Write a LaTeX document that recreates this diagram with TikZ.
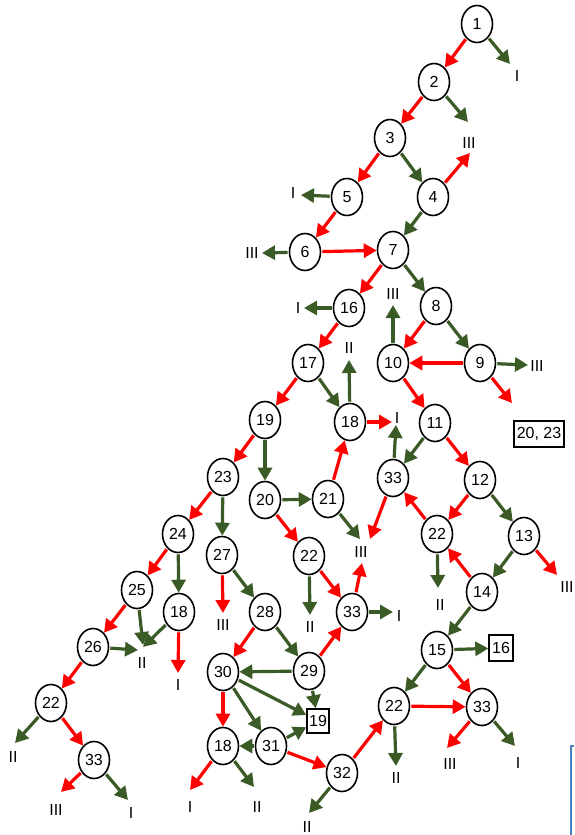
\documentclass[tikz,border=0pt]{standalone}
\usepackage{fontspec}
\setmainfont{Liberation Sans}
\usetikzlibrary{arrows.meta,shapes.geometric}
\definecolor{arrred}{HTML}{FF0000}
\definecolor{arrgreen}{HTML}{3B5B26}
\definecolor{edgeblue}{HTML}{4A7EC0}

\begin{document}
\begin{tikzpicture}[x=1pt,y=-1pt, every node/.style={font=\fontsize{16}{18}\selectfont},
 nd/.style={draw,ellipse,line width=1.6pt,minimum width=31pt,minimum height=37pt,inner sep=0pt,fill=white},
 bx/.style={draw,rectangle,line width=1.6pt,minimum height=26pt,inner sep=3pt,fill=white},
 lab/.style={inner sep=0pt},
 ra/.style={arrred,line width=3.2pt,shorten <=1pt,-{Triangle[length=13pt,width=14pt]}},
 ga/.style={arrgreen,line width=3.2pt,shorten <=1pt,-{Triangle[length=13pt,width=14pt]}}]
\useasboundingbox (0,0) rectangle (574,835);
% numbered states
\node[nd] (a1) at (477,24) {1};
\node[nd] (a2) at (434,82) {2};
\node[nd] (a3) at (390,138) {3};
\node[nd] (a4) at (433,197) {4};
\node[nd] (a5) at (347,197) {5};
\node[nd] (a6) at (305,252) {6};
\node[nd] (a7) at (393,250) {7};
\node[nd] (a16) at (349,308) {16};
\node[nd] (a8) at (436,306) {8};
\node[nd] (a10) at (393,363) {10};
\node[nd] (a9) at (480,363) {9};
\node[nd] (a17) at (308,363) {17};
\node[nd] (a18) at (350,422) {18};
\node[nd] (a11) at (435,423) {11};
\node[nd] (a19) at (265,420) {19};
\node[nd] (a23) at (223,477) {23};
\node[nd] (b33) at (393,478) {33};
\node[nd] (a12) at (480,480) {12};
\node[nd] (a20) at (265,500) {20};
\node[nd] (a21) at (328,499) {21};
\node[nd] (a24) at (178,534) {24};
\node[nd] (b22) at (437,534) {22};
\node[nd] (a13) at (524,536) {13};
\node[nd] (a27) at (222,555) {27};
\node[nd] (c22) at (309,556) {22};
\node[nd] (a14) at (482,592) {14};
\node[nd] (a25) at (137,590) {25};
\node[nd] (b18) at (179,612) {18};
\node[nd] (a28) at (265,612) {28};
\node[nd] (c33) at (352,612) {33};
\node[nd] (a26) at (93,647) {26};
\node[nd] (a15) at (437,650) {15};
\node[nd] (a29) at (309,671) {29};
\node[nd] (a30) at (223,672) {30};
\node[nd] (d22) at (51,703) {22};
\node[nd] (e22) at (394,706) {22};
\node[nd] (e33) at (482,707) {33};
\node[nd] (c18) at (223,746) {18};
\node[nd] (a31) at (271,746) {31};
\node[nd] (d33) at (94,760) {33};
\node[nd] (a32) at (342,773) {32};
% boxes
\node[bx] (s2023) at (539,434) {20, 23};
\node[bx] (s16) at (501,648) {16};
\node[bx,minimum height=24pt,inner sep=2pt] (s19) at (318,721) {19};
% end labels
\foreach \n/\x/\y/\t in {l1/517/76/I, l2/469/143/III, l5/293/193/I, l6/252/253/III, l16/298/308/I,
  l10/393/294/III, l18/349/348/II, l9/537/366/III, l18b/397/418/I, l21/361/552/III, lb22/440/605/II,
  l13/567/587/III, l27/223/625/III, l25/142/663/II, lb18/178/685/I, lc22/310/627/II, lc33/399/616/I,
  ld22/13/757/II, ld33a/56/810/III, ld33b/131/813/I, lc18a/190/807/I, lc18b/257/807/II,
  le22/396/778/II, le33a/450/764/III, le33b/518/763/I, l32/307/827/II}
  \node[lab] (\n) at (\x,\y) {\t};
% arrow tips
\foreach \n/\x/\y in {t1/510/64, t2/468/122, t4/470/153, t5/301/195, t6/262/253, t16/304/308,
  t10/393/305, t18b/349/360, t9/528/365, t9b/512/403, t18/392/422, t33b/396/425, t33/370/539,
  t21/360/539, tc33a/362/563, tb22/438/588, t13/557/575, t27/223/613, t25/143/645, t18c/143/647,
  t26/138/650, tb18/178/673, tc22/310/615, tc33b/393/612, td22/15/743, td33a/61/792, td33b/128/800,
  tc18a/190/790, tc18b/254/787, te22/396/766, te33a/447/748, te33b/515/746, t32/309/813}
  \coordinate (\n) at (\x,\y);
% red moves
\foreach \a/\b in {a1/a2, a2/a3, a3/a5, a5/a6, a6/a7, a7/a16, a16/a17, a8/a10, a9/a10, a10/a11,
  a17/a19, a11/a12, a21/a18, a19/a23, a20/c22, a12/b22, b22/b33, a14/b22, a23/a24, a24/a25,
  a25/a26, a26/d22, d22/d33, a28/a30, c22/c33, a29/c33, a30/c18, a31/a32, a32/e22, a15/e33, e22/e33,
  a4/t4, a9/t9b, a18/t18, b33/t33, a13/t13, b18/tb18, a27/t27, c33/tc33a, d33/td33a, c18/tc18a, e33/te33a}
  {\draw[ra] (\a) -- (\b);}
% green moves
\foreach \a/\b in {a3/a4, a4/a7, a7/a8, a8/a9, a17/a18, a11/b33, a19/a20, a20/a21, a12/a13, a13/a14,
  a14/a15, a23/a27, a24/b18, a27/a28, a28/a29, a29/a30, a29/s19, a30/s19, a30/a31, a31/c18, a31/s19,
  a15/s16, a15/e22,
  a1/t1, a2/t2, a5/t5, a6/t6, a16/t16, a10/t10, a18/t18b, a9/t9, b33/t33b, a21/t21, b22/tb22,
  a25/t25, b18/t18c, a26/t26, c22/tc22, c33/tc33b, d22/td22, d33/td33b, c18/tc18b, e22/te22,
  e33/te33b, a32/t32}
  {\draw[ga] (\a) -- (\b);}
% cut-off frame at the edge
\draw[edgeblue,line width=1.5pt] (574,746) -- (571,746) -- (571,835);
\end{tikzpicture}
\end{document}
